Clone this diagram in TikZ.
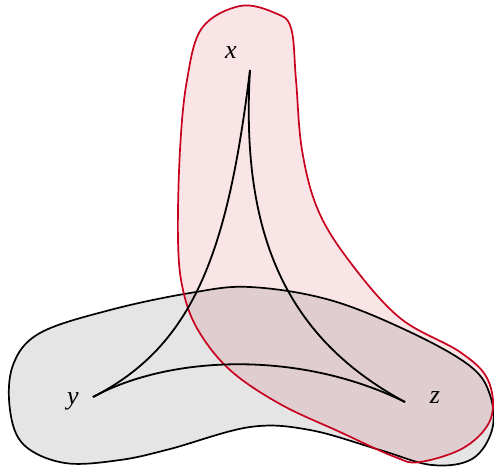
\documentclass[tikz,border=0pt]{standalone}
\usepackage{fontspec}
\setmainfont{Liberation Serif}
\begin{document}
\begin{tikzpicture}[x=1pt,y=-1pt,
  lbl/.style={font=\fontsize{26}{30}\selectfont\itshape, inner sep=0pt},
  edge/.style={line width=1.8pt, black},
  blobline/.style={line width=1.7pt}]
\definecolor{pinkfill}{RGB}{249,228,230}
\definecolor{overfill}{RGB}{224,205,208}
\definecolor{grayfill}{RGB}{229,229,229}
\definecolor{redline}{RGB}{200,0,30}
\useasboundingbox (0,0) rectangle (494,469);
\def\grayblob{plot[smooth cycle, tension=0.6] coordinates {(250,287) (190,293) (110,310) (40,333) (13,365) (10,410) (24,445) (65,463) (120,460) (170,449) (250,427) (310,430) (380,450) (432,465) (472,459) (492,430) (490,395) (470,366) (410,332) (330,300)}}
\def\redblob{plot[smooth cycle, tension=0.6] coordinates {(240,6) (275,13) (291,28) (296,80) (302,150) (318,210) (350,262) (400,318) (460,352) (488,380) (491,418) (465,447) (420,462) (395,457) (340,432) (280,404) (230,370) (198,330) (183,290) (178,240) (180,150) (187,80) (202,28)}}
\fill[grayfill] \grayblob;
\fill[pinkfill] \redblob;
\begin{scope}
\clip \grayblob;
\fill[overfill] \redblob;
\end{scope}
\draw[blobline, black] \grayblob;
\draw[blobline, redline] \redblob;
\coordinate (X) at (250,70);
\coordinate (Y) at (93,397);
\coordinate (Z) at (405,402);
\node[lbl] (lx) at (231,53) {x};
\node[lbl] (ly) at (73,401) {y};
\node[lbl] (lz) at (435,398) {z};
\draw[edge] (X) .. controls (228,250) and (195,345) .. (Y);
\draw[edge] (X) .. controls (240,240) and (290,340) .. (Z);
\draw[edge] (Y) .. controls (170,355) and (300,350) .. (Z);
\end{tikzpicture}
\end{document}
